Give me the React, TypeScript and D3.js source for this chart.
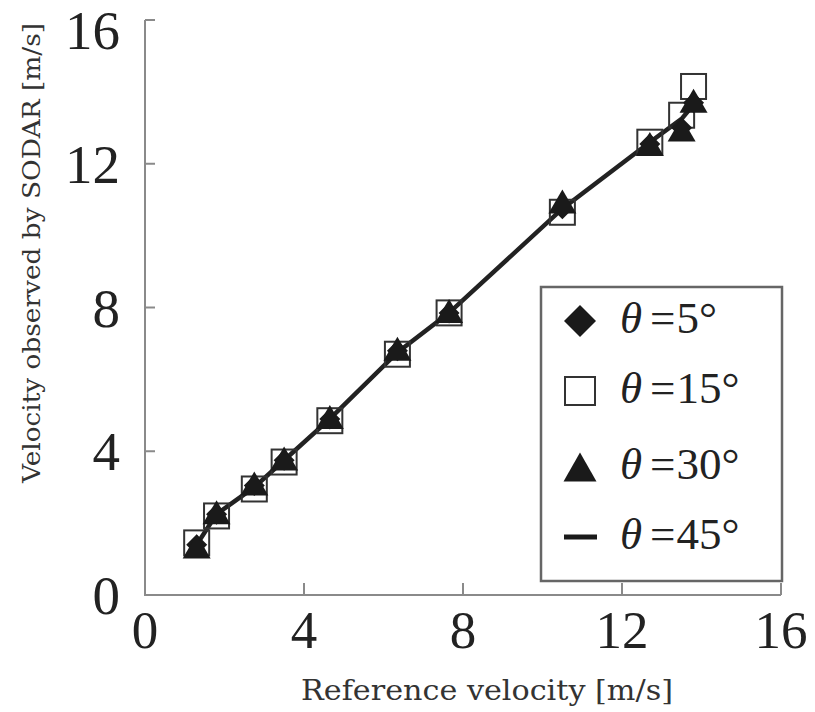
import React from "react";
import * as d3 from "d3";

// Reference wind speed [m/s] at each measurement
const refVelocity = [1.3, 1.8, 2.75, 3.5, 4.65, 6.35, 7.65, 10.5, 12.7, 13.5, 13.8];
// SODAR-observed wind speed [m/s] for each beam tilt angle
const theta5 = [1.4, 2.25, 3.05, 3.75, 4.9, 6.8, 7.85, 10.75, 12.55, 13.0, 13.7];
const theta15 = [1.45, 2.2, 2.95, 3.7, 4.85, 6.7, 7.85, 10.65, 12.6, 13.35, 14.15];
const theta30 = [1.35, 2.3, 3.1, 3.8, 4.95, 6.85, 7.9, 10.95, 12.55, 12.95, 13.75];
const theta45 = [1.4, 2.25, 3.0, 3.75, 4.9, 6.75, 7.85, 10.75, 12.6, 13.25, 13.65];

const xTicks = [0, 4, 8, 12, 16];
const yTicks = [0, 4, 8, 12, 16];
const legendLabels = ["5", "15", "30", "45"];

const W = 815;
const H = 712;
const left = 145;
const right = 781;
const top = 20;
const bottom = 595;

const serif = "Liberation Serif";
const titleFont = "DejaVu Serif";
const axisColor = "#8a8a8a";
const ink = "#1a1a1a";

export default function App() {
  const x = d3.scaleLinear().domain([0, 16]).range([left, right]);
  const y = d3.scaleLinear().domain([0, 16]).range([bottom, top]);

  const line = d3
    .line<number>()
    .x((_, i) => x(refVelocity[i]))
    .y((d) => y(d));

  const ms = 25; // marker size
  const diamond = (cx: number, cy: number, s: number) => {
    const h = s / 2 + 1;
    return `M${cx},${cy - h}L${cx + h},${cy}L${cx},${cy + h}L${cx - h},${cy}Z`;
  };
  const triangle = (cx: number, cy: number, s: number) => {
    const w = s / 2 + 1.5;
    const hh = s * 0.48;
    return `M${cx},${cy - hh}L${cx + w},${cy + hh}L${cx - w},${cy + hh}Z`;
  };

  const legendX = 580;
  const markerRows = [321, 391, 467, 537];
  const textRows = [333, 403, 479, 549];
  const textStyle = { fontFamily: serif };
  const titleStyle = { fontFamily: titleFont };

  return (
    <svg
      width={W}
      height={H}
      style={{ position: "absolute", left: 0, top: 0, background: "#fff", fontFamily: serif }}
    >
      <rect x={0} y={0} width={W} height={H} fill="#fff" />

      {/* axes */}
      <path
        d={`M${left},${y(16)}V${bottom}H${right}`}
        fill="none"
        stroke={axisColor}
        strokeWidth={2}
      />
      {yTicks.slice(1).map((t) => (
        <line key={`yt${t}`} x1={left} x2={left + 10} y1={y(t)} y2={y(t)} stroke={axisColor} strokeWidth={2} />
      ))}
      {xTicks.slice(1).map((t) => (
        <line key={`xt${t}`} x1={x(t)} x2={x(t)} y1={bottom} y2={bottom - 12} stroke={axisColor} strokeWidth={2} />
      ))}
      {yTicks.map((t) => (
        <text
          key={`yl${t}`}
          x={120}
          y={Math.max(y(t) + 19, 49)}
          textAnchor="end"
          fontSize={55}
          fill="#222"
          style={textStyle}
        >
          {t}
        </text>
      ))}
      {xTicks.map((t) => (
        <text
          key={`xl${t}`}
          x={x(t)}
          y={bottom + 53}
          textAnchor="middle"
          fontSize={53}
          fill="#222"
          style={textStyle}
        >
          {t}
        </text>
      ))}
      <text
        x={487}
        y={700}
        textAnchor="middle"
        fontSize={27}
        fill="#333"
        style={titleStyle}
        textLength={372}
        lengthAdjust="spacingAndGlyphs"
      >
        Reference velocity [m/s]
      </text>
      <text
        transform={`translate(40,253) rotate(-90)`}
        textAnchor="middle"
        fontSize={25}
        fill="#333"
        style={titleStyle}
        textLength={460}
        lengthAdjust="spacingAndGlyphs"
      >
        Velocity observed by SODAR [m/s]
      </text>

      {/* θ=45° fitted trace */}
      <path d={line(theta45) || ""} fill="none" stroke="#222" strokeWidth={4.5} />

      {/* θ=15° open squares */}
      {theta15.map((v, i) => (
        <rect
          key={`s${i}`}
          x={x(refVelocity[i]) - ms / 2}
          y={y(v) - ms / 2}
          width={ms}
          height={ms}
          fill="none"
          stroke="#333"
          strokeWidth={2}
        />
      ))}
      {/* θ=5° diamonds */}
      {theta5.map((v, i) => (
        <path key={`d${i}`} d={diamond(x(refVelocity[i]), y(v), 19)} fill={ink} />
      ))}
      {/* θ=30° triangles */}
      {theta30.map((v, i) => (
        <path key={`t${i}`} d={triangle(x(refVelocity[i]), y(v), ms)} fill={ink} />
      ))}

      {/* legend */}
      <rect x={541} y={287} width={241} height={294} fill="#fff" stroke="#666" strokeWidth={2.5} />
      <path d={diamond(legendX, markerRows[0], 30)} fill={ink} />
      <rect x={legendX - 15} y={markerRows[1] - 14} width={30} height={28} fill="none" stroke="#333" strokeWidth={2} />
      <path d={triangle(legendX, markerRows[2], 30)} fill={ink} />
      <line x1={legendX - 16} x2={legendX + 17} y1={markerRows[3]} y2={markerRows[3]} stroke={ink} strokeWidth={5} />
      {legendLabels.map((lab, i) => (
        <text key={`lg${i}`} x={620} y={textRows[i]} fontSize={45} fill="#222" style={textStyle}>
          <tspan fontStyle="italic">θ</tspan>
          <tspan dx={8}>=</tspan>
          <tspan dx={1}>{lab}°</tspan>
        </text>
      ))}
    </svg>
  );
}
